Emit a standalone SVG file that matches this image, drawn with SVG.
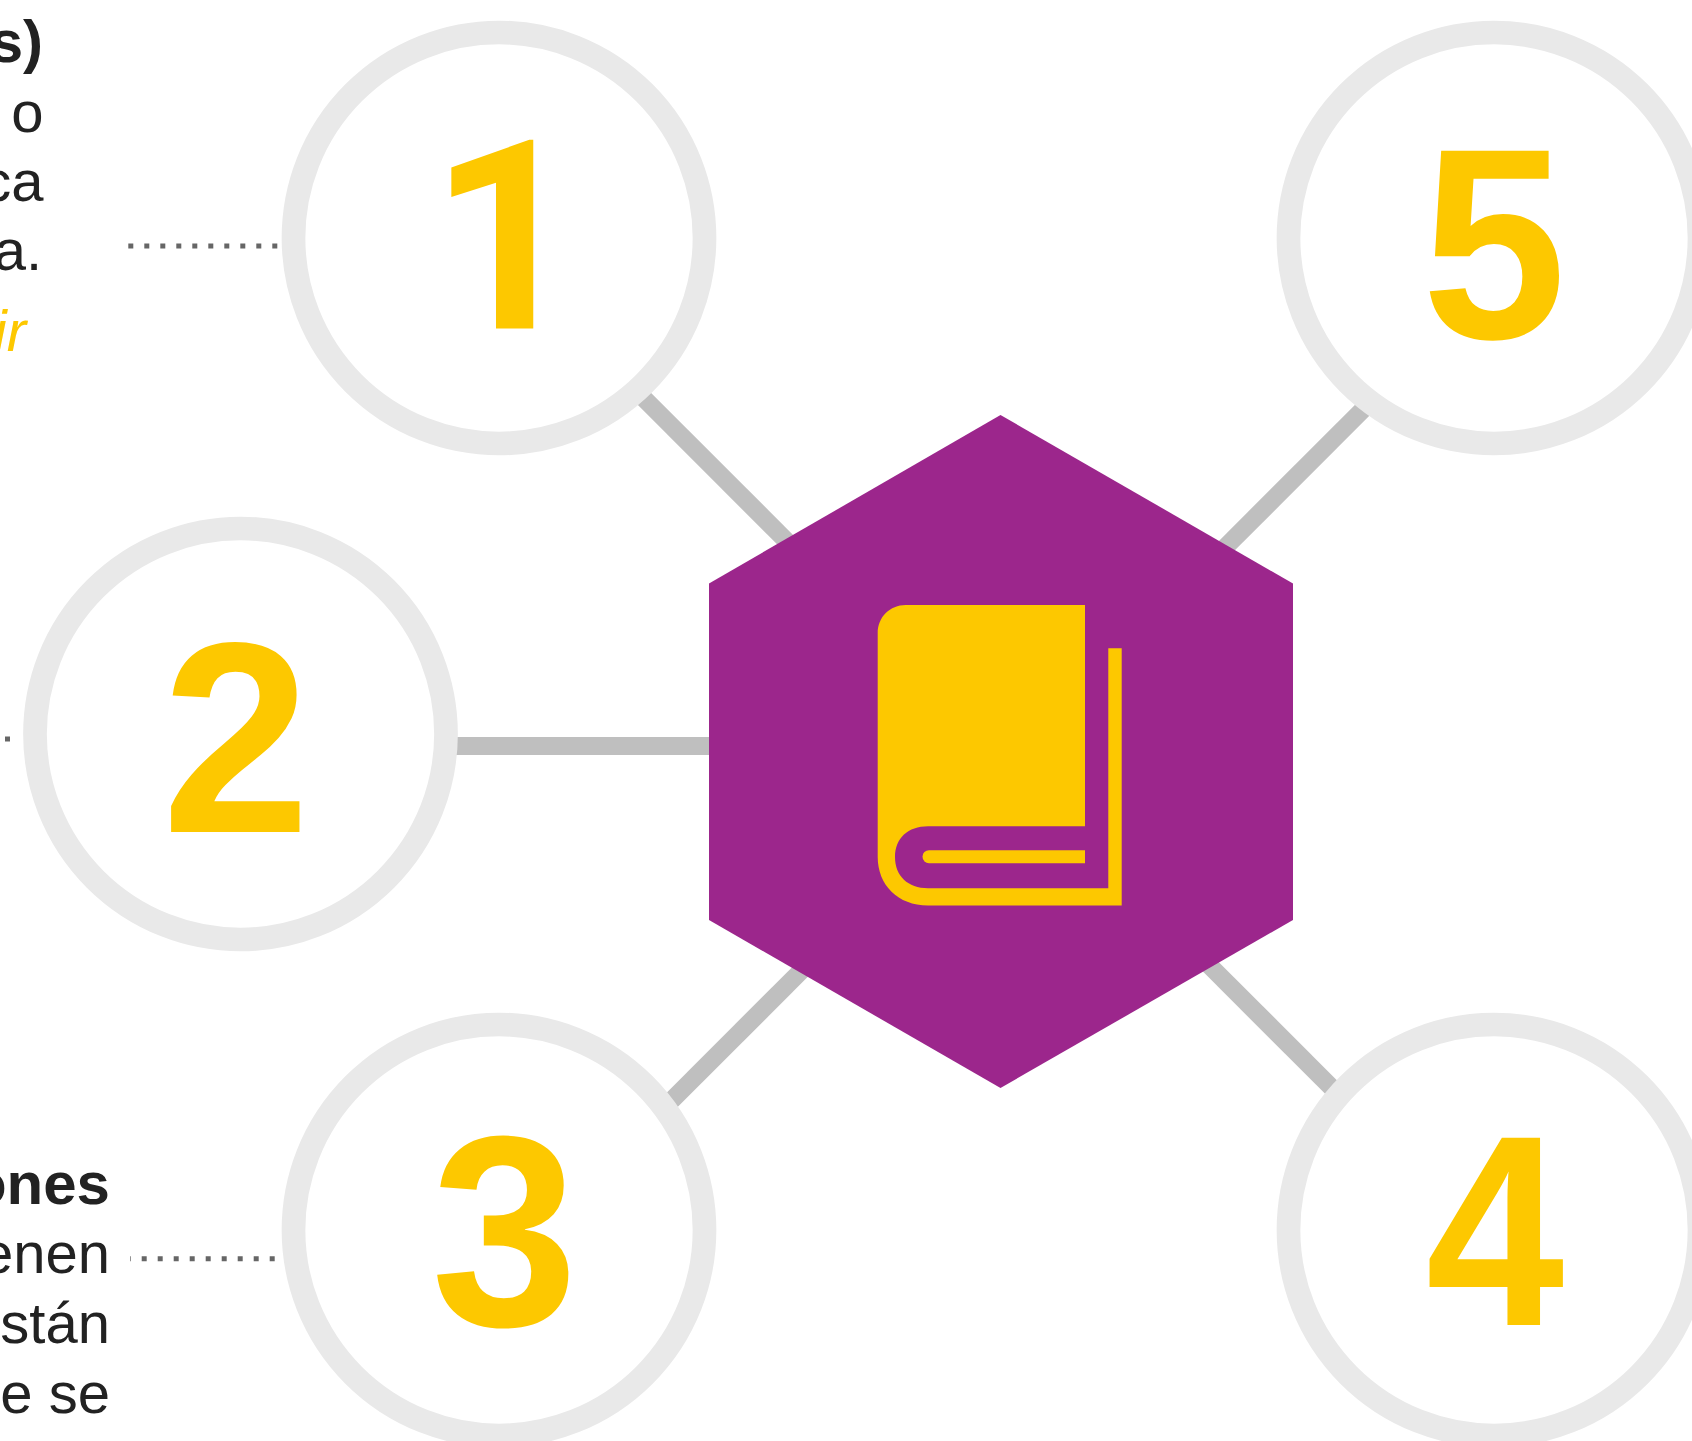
<svg xmlns="http://www.w3.org/2000/svg" width="1692" height="1441" viewBox="0 0 1692 1441">
<style>
.ring{fill:#fff;stroke:#e9e9e9;stroke-width:23.7}
.num{font:bold 272px "Liberation Sans",Arial,sans-serif;fill:#fdc800;text-anchor:middle}
.one{font:bold 265px Roboto,"Liberation Sans",sans-serif;fill:#fdc800;text-anchor:end}
.t{font:58px "Liberation Sans",Arial,sans-serif;fill:#222;text-anchor:end}
.b{font-weight:bold;font-size:60px}
.i{font-style:italic;fill:#fdc800}
.link{stroke:#bfbfbf;stroke-width:18;fill:none}
.dot{stroke:#666;stroke-width:5;stroke-dasharray:5 11;fill:none}
</style>
<rect width="1692" height="1441" fill="#fff"/>
<g id="connectors">
<line class="link" x1="640" y1="394.5" x2="790" y2="544.5"/>
<line class="link" x1="1370" y1="402.5" x2="1222" y2="550.5"/>
<line class="link" x1="666" y1="1106" x2="804" y2="968"/>
<line class="link" x1="1208" y1="964" x2="1337" y2="1093"/>
<line class="link" x1="450" y1="746" x2="715" y2="746"/>
<line class="dot" x1="128.3" y1="246" x2="280" y2="246"/>
<line class="dot" x1="130" y1="1258.7" x2="278" y2="1258.7" stroke-dashoffset="4.3"/>
<line class="dot" x1="5" y1="739" x2="11" y2="739"/>
</g>
<g id="node-1"><circle class="ring" cx="499" cy="238" r="205.5"/><text class="one" x="581.6" y="328.5">1</text></g>
<g id="node-2"><circle class="ring" cx="240.5" cy="734" r="205.5"/><text class="num" transform="translate(236 832) scale(.98 1)">2</text></g>
<g id="node-3"><circle class="ring" cx="499" cy="1230" r="205.5"/><text class="num" transform="translate(504.5 1325.5) scale(.97 1)">3</text></g>
<g id="node-4"><circle class="ring" cx="1494" cy="1230" r="205.5"/><text class="num" transform="translate(1495 1325) scale(.915 1)">4</text></g>
<g id="node-5"><circle class="ring" cx="1494" cy="238" r="205.5"/><text class="num" transform="translate(1494 338) scale(.955 1)">5</text></g>
<g id="hub">
<polygon points="1000.5,415 1293,583.5 1293,920 1000.5,1088 709,920 709,583.5" fill="#9c268c"/>
<path fill="#fdc800" d="M905.7 605H1085V826.2H928C908 826.2 895 838 895 857C895 876 908 888.2 928 888.2H1108.3V648.3H1121.7V905.5H928C898 905.5 877.7 885 877.7 857V633C877.7 617 890 605 905.7 605Z"/>
<path fill="#fdc800" d="M929 850.2H1085V863.2H929A6.5 6.5 0 0 1 929 850.2Z"/>
</g>
<g id="label-1">
<text class="t b" x="43" y="62">s)</text>
<text class="t" x="43.5" y="132">o</text>
<text class="t" x="43.5" y="201">ca</text>
<text class="t" x="42" y="270">a.</text>
<text class="t i" x="26" y="351">ir</text>
</g>
<g id="label-3">
<text class="t b" x="110" y="1204">ones</text>
<text class="t" x="110" y="1273">enen</text>
<text class="t" x="110" y="1343">stán</text>
<text class="t" x="110" y="1413">e se</text>
</g>
</svg>
